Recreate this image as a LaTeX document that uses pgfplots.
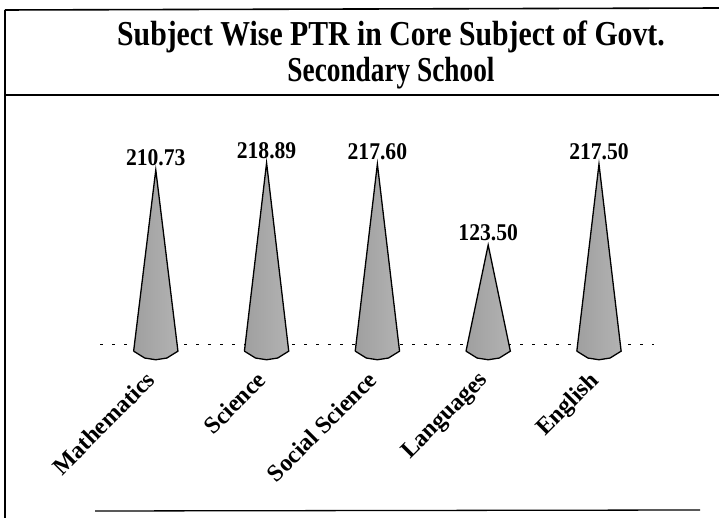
\documentclass[border=0pt]{standalone}
\usepackage{pgfplots}
\pgfplotsset{compat=1.18}
\usepackage{fontspec}
\setmainfont{Liberation Serif}
\begin{document}
\begin{tikzpicture}[x=1pt,y=1pt]
\useasboundingbox (0,0) rectangle (719,518);
% frame
\draw[line width=1.6pt] (5,508) -- (725,510);
\draw[line width=1.6pt] (5,508) -- (5,-5);
\draw[line width=1.4pt] (5,423) -- (725,423);
\draw[line width=1.3pt] (95,7) -- (700,8);
% title
\node[anchor=base, inner sep=0pt, xscale=0.85] at (391,472) {\fontsize{35}{40}\selectfont\bfseries Subject Wise PTR in Core Subject of Govt.};
\node[anchor=base, inner sep=0pt, xscale=0.78] at (391,436) {\fontsize{35}{40}\selectfont\bfseries Secondary School};
\begin{axis}[
  at={(90.6,174)}, anchor=south west,
  scale only axis, width=554pt, height=258pt,
  xmin=-0.5, xmax=4.5, ymin=-20, ymax=280,
  clip=false,
  axis line style={draw=none},
  major tick length=0pt,
  xtick={0,1,2,3,4},
  xticklabels={Mathematics,Science,Social Science,Languages,English},
  xticklabel style={xshift=-11pt, rotate=45, anchor=north east, inner sep=1pt,
    font=\fontsize{24}{24}\selectfont\bfseries},
  ytick={8}, yticklabels={},
  ymajorgrids,
  major grid style={black, line width=0.8pt, dash pattern=on 3pt off 9pt},
  cone/.style={draw=black, line width=1.3pt, left color=gray!75, middle color=gray!15, right color=gray!60},
]
\addplot[cone] coordinates {(-0.2,0) (0,210.73) (0.2,0) (0.1,-8) (0,-10) (-0.1,-8) (-0.2,0)};
\addplot[cone] coordinates {(0.8,0) (1,218.89) (1.2,0) (1.1,-8) (1,-10) (0.9,-8) (0.8,0)};
\addplot[cone] coordinates {(1.8,0) (2,217.60) (2.2,0) (2.1,-8) (2,-10) (1.9,-8) (1.8,0)};
\addplot[cone] coordinates {(2.8,0) (3,123.50) (3.2,0) (3.1,-8) (3,-10) (2.9,-8) (2.8,0)};
\addplot[cone] coordinates {(3.8,0) (4,217.50) (4.2,0) (4.1,-8) (4,-10) (3.9,-8) (3.8,0)};
\addplot[draw=none, mark=none, point meta=explicit symbolic, nodes near coords,
  every node near coord/.append style={anchor=south, yshift=3pt, inner sep=1pt, xscale=0.9,
    font=\fontsize{24}{24}\selectfont\bfseries}]
  coordinates {(0,210.73) [210.73] (1,218.89) [218.89] (2,217.60) [217.60] (3,123.50) [123.50] (4,217.50) [217.50]};
\end{axis}
\end{tikzpicture}
\end{document}
